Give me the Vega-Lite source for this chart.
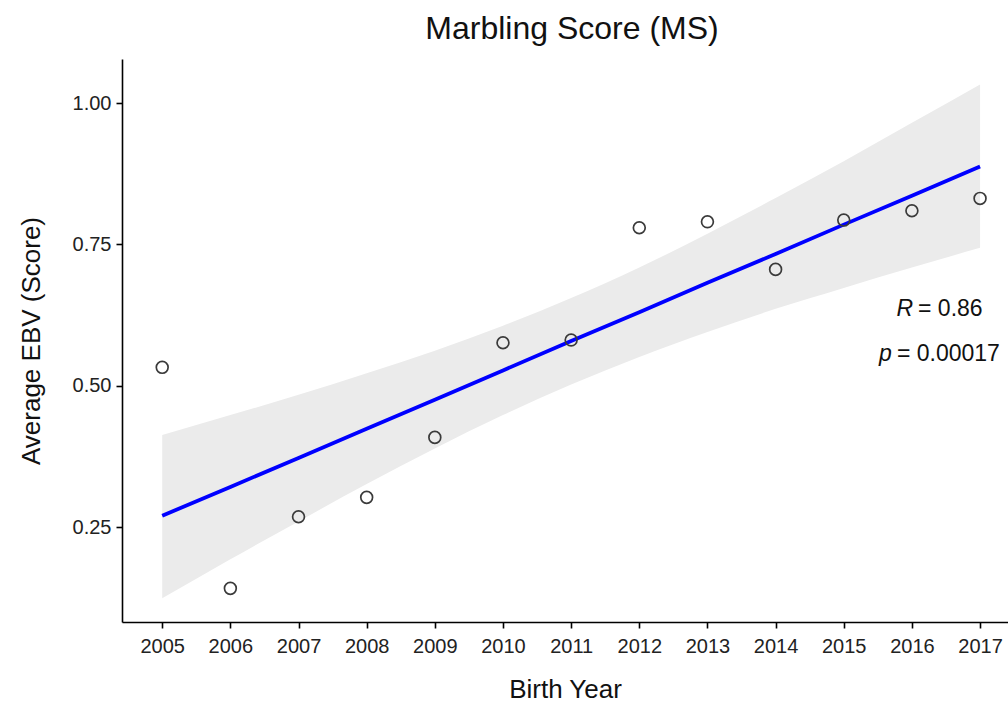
{
  "$schema": "https://vega.github.io/schema/vega-lite/v6.json",
  "width": 886,
  "height": 563,
  "autosize": {"type": "none"},
  "padding": {"left": 122, "top": 59, "right": 0, "bottom": 80},
  "background": "white",
  "config": {
    "view": {"stroke": null},
    "font": "Liberation Sans",
    "axis": {
      "grid": false,
      "domainColor": "#000000",
      "domainWidth": 1.6,
      "tickColor": "#000000",
      "tickWidth": 1.6,
      "tickSize": 6,
      "labelFont": "Liberation Sans",
      "labelFontSize": 20,
      "labelColor": "#222222",
      "titleFont": "Liberation Sans",
      "titleFontSize": 26,
      "titleFontWeight": "normal",
      "titleColor": "#111111"
    }
  },
  "title": {
    "text": "Marbling Score (MS)",
    "font": "Liberation Sans",
    "fontSize": 32,
    "fontWeight": "normal",
    "color": "#111111",
    "offset": 13,
    "dx": 7
  },
  "datasets": {
    "points": [
      {"year": 2005, "ebv": 0.5325},
      {"year": 2006, "ebv": 0.1415},
      {"year": 2007, "ebv": 0.2682},
      {"year": 2008, "ebv": 0.3025},
      {"year": 2009, "ebv": 0.4086},
      {"year": 2010, "ebv": 0.576},
      {"year": 2011, "ebv": 0.5808},
      {"year": 2012, "ebv": 0.7794},
      {"year": 2013, "ebv": 0.79},
      {"year": 2014, "ebv": 0.7058},
      {"year": 2015, "ebv": 0.793},
      {"year": 2016, "ebv": 0.8095},
      {"year": 2017, "ebv": 0.8314}
    ],
    "band": [
      {"year": 2005, "fit": 0.270, "lo": 0.124, "hi": 0.413},
      {"year": 2006, "fit": 0.321, "lo": 0.193, "hi": 0.448},
      {"year": 2007, "fit": 0.372, "lo": 0.260, "hi": 0.484},
      {"year": 2008, "fit": 0.424, "lo": 0.326, "hi": 0.522},
      {"year": 2009, "fit": 0.475, "lo": 0.389, "hi": 0.562},
      {"year": 2010, "fit": 0.527, "lo": 0.448, "hi": 0.606},
      {"year": 2011, "fit": 0.579, "lo": 0.502, "hi": 0.655},
      {"year": 2012, "fit": 0.630, "lo": 0.551, "hi": 0.709},
      {"year": 2013, "fit": 0.682, "lo": 0.595, "hi": 0.769},
      {"year": 2014, "fit": 0.733, "lo": 0.636, "hi": 0.832},
      {"year": 2015, "fit": 0.785, "lo": 0.673, "hi": 0.897},
      {"year": 2016, "fit": 0.836, "lo": 0.709, "hi": 0.965},
      {"year": 2017, "fit": 0.888, "lo": 0.744, "hi": 1.033}
    ],
    "labels": [
      {"year": 2016.09, "ebv": 0.636, "sym": "R", "rest": "= 0.86"},
      {"year": 2015.78, "ebv": 0.5565, "sym": "p", "rest": "= 0.00017"}
    ]
  },
  "encoding": {
    "x": {
      "field": "year",
      "type": "quantitative",
      "scale": {"domain": [2004.41, 2017.41], "nice": false, "zero": false},
      "axis": {
        "values": [2005, 2006, 2007, 2008, 2009, 2010, 2011, 2012, 2013, 2014, 2015, 2016, 2017],
        "format": "d",
        "title": "Birth Year",
        "labelPadding": 8,
        "titlePadding": 20
      }
    }
  },
  "layer": [
    {
      "data": {"name": "band"},
      "mark": {"type": "area", "color": "#EBEBEB", "opacity": 1, "interpolate": "monotone"},
      "encoding": {
        "y": {
          "field": "lo",
          "type": "quantitative",
          "scale": {"domain": [0.082, 1.078], "nice": false, "zero": false},
          "axis": {
            "values": [0.25, 0.5, 0.75, 1.0],
            "format": ".2f",
            "title": "Average EBV (Score)",
            "labelPadding": 5,
            "titlePadding": 28
          }
        },
        "y2": {"field": "hi"}
      }
    },
    {
      "data": {"name": "band"},
      "mark": {"type": "line", "color": "#0000FF", "strokeWidth": 3.8},
      "encoding": {
        "y": {"field": "fit", "type": "quantitative"}
      }
    },
    {
      "data": {"name": "points"},
      "mark": {"type": "point", "shape": "circle", "filled": false, "stroke": "#3a3a3a", "strokeWidth": 1.7, "size": 140, "opacity": 1},
      "encoding": {
        "y": {"field": "ebv", "type": "quantitative"}
      }
    },
    {
      "data": {"name": "labels"},
      "mark": {"type": "text", "align": "right", "baseline": "middle", "dx": -5, "fontSize": 23, "fontStyle": "italic", "color": "#111111", "font": "Liberation Sans"},
      "encoding": {
        "y": {"field": "ebv", "type": "quantitative"},
        "text": {"field": "sym"}
      }
    },
    {
      "data": {"name": "labels"},
      "mark": {"type": "text", "align": "left", "baseline": "middle", "fontSize": 23, "color": "#111111", "font": "Liberation Sans"},
      "encoding": {
        "y": {"field": "ebv", "type": "quantitative"},
        "text": {"field": "rest"}
      }
    }
  ]
}
